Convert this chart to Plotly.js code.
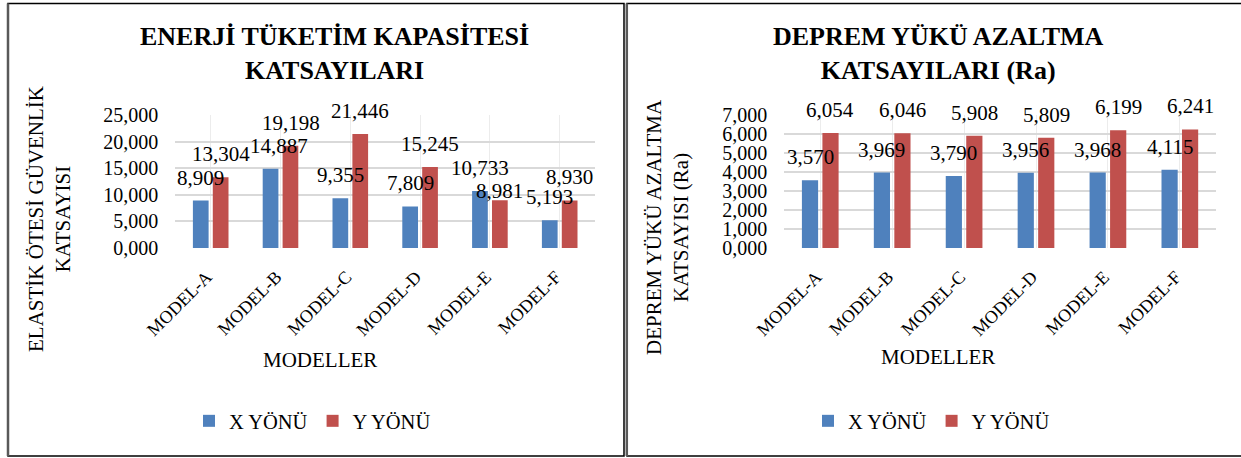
<!DOCTYPE html>
<html>
<head>
<meta charset="utf-8">
<script src="https://cdn.plot.ly/plotly-3.0.1.min.js"></script>
<style>
  html, body { margin: 0; padding: 0; background: #ffffff; }
  #chart { width: 1241px; height: 458px; }
</style>
</head>
<body>
<div id="chart"></div>
<script>
// ---- data ----
const categories = ['MODEL-A', 'MODEL-B', 'MODEL-C', 'MODEL-D', 'MODEL-E', 'MODEL-F'];
const seriesNames = ['X YÖNÜ', 'Y YÖNÜ'];
const energyX = [8.909, 14.887, 9.355, 7.809, 10.733, 5.193];
const energyY = [13.304, 19.198, 21.446, 15.245, 8.981, 8.930];
const reductionX = [3.570, 3.969, 3.790, 3.956, 3.968, 4.115];
const reductionY = [6.054, 6.046, 5.908, 5.809, 6.199, 6.241];
const leftTitle = 'ENERJİ TÜKETİM KAPASİTESİ<br>KATSAYILARI';
const rightTitle = 'DEPREM YÜKÜ AZALTMA<br>KATSAYILARI (Ra)';
const leftYTitle = 'ELASTİK ÖTESİ GÜVENLİK<br>KATSAYISI';
const rightYTitle = 'DEPREM YÜKÜ AZALTMA<br>KATSAYISI (Ra)';
const xTitle = 'MODELLER';

// ---- styling ----
const W = 1241, H = 458;
const FONT = 'Liberation Serif, Times New Roman, serif';
const BLUE = '#4F81BD', RED = '#C0504D';
const px = v => v / W;
const py = v => 1 - v / H;
const fmt = v => v.toFixed(3).replace('.', ',');

const traces = [
  {type: 'bar', name: seriesNames[0], x: categories, y: energyX, xaxis: 'x', yaxis: 'y', marker: {color: BLUE}, legend: 'legend'},
  {type: 'bar', name: seriesNames[1], x: categories, y: energyY, xaxis: 'x', yaxis: 'y', marker: {color: RED}, legend: 'legend'},
  {type: 'bar', name: seriesNames[0], x: categories, y: reductionX, xaxis: 'x2', yaxis: 'y2', marker: {color: BLUE}, legend: 'legend2'},
  {type: 'bar', name: seriesNames[1], x: categories, y: reductionY, xaxis: 'x2', yaxis: 'y2', marker: {color: RED}, legend: 'legend2'}
];

// manual label nudges (pixel placement only, as in the source chart)
const labelNudge = {'energyX-1': {dx: 8, dy: 0}, 'energyY-4': {dx: 0, dy: -14}};

const annotations = [];
function addLabels(key, values, xref, yref, shift) {
  values.forEach((v, i) => {
    const n = labelNudge[key + '-' + i] || {dx: 0, dy: 0};
    annotations.push({
      x: categories[i], y: v, xref: xref, yref: yref,
      text: fmt(v), showarrow: false, xshift: shift + n.dx, yshift: 23 + n.dy,
      xanchor: 'center', yanchor: 'middle',
      font: {family: FONT, size: 21, color: '#000'}
    });
  });
}
addLabels('energyX', energyX, 'x', 'y', -10);
addLabels('energyY', energyY, 'x', 'y', 10);
addLabels('reductionX', reductionX, 'x2', 'y2', -10.2);
addLabels('reductionY', reductionY, 'x2', 'y2', 10.2);

function paperText(text, x, y, size, extra) {
  annotations.push(Object.assign({
    text: text, x: px(x), y: py(y), xref: 'paper', yref: 'paper',
    xanchor: 'center', yanchor: 'middle', showarrow: false,
    font: {family: FONT, size: size, color: '#000'}
  }, extra || {}));
}
paperText(leftTitle, 334, 53, 26, {font: {family: FONT, size: 26, color: '#000', weight: 700}});
paperText(rightTitle, 938, 54, 26, {font: {family: FONT, size: 26, color: '#000', weight: 700}});
paperText(leftYTitle, 49, 219, 21, {textangle: -90});
paperText(rightYTitle, 667, 227, 21, {textangle: -90});
paperText(xTitle, 320, 360, 21);
paperText(xTitle, 938, 357, 21);

const yTop = py(115), yBot = py(248);

function xAxis(domain) {
  return {
    domain: domain, type: 'category', showgrid: true, gridcolor: '#ececec', gridwidth: 1,
    showline: false, zeroline: false, ticks: '', tickangle: -45,
    ticklabelstandoff: 14, ticklabelshift: -4,
    tickfont: {family: FONT, size: 18, color: '#000'}, fixedrange: true
  };
}
function yAxis(range, dtick, anchor) {
  return {
    domain: [yBot, yTop], range: range, dtick: dtick, tick0: 0, anchor: anchor,
    tickformat: '.3f', showgrid: true, gridcolor: '#d9d9d9', gridwidth: 2,
    zeroline: false, showline: false, ticks: '', ticklabelstandoff: 16,
    tickfont: {family: FONT, size: 20, color: '#000'}, fixedrange: true
  };
}

const legendBase = {
  orientation: 'h', yanchor: 'middle', xanchor: 'left', y: py(421),
  font: {family: FONT, size: 20.5, color: '#000'}, bgcolor: 'rgba(0,0,0,0)', traceorder: 'normal'
};

const layout = {
  width: W, height: H, autosize: false,
  margin: {l: 0, r: 0, t: 0, b: 0, pad: 0},
  paper_bgcolor: '#ffffff', plot_bgcolor: 'rgba(0,0,0,0)',
  separators: ',.',
  barmode: 'group', bargap: 0.43, bargroupgap: 0.21,
  showlegend: true,
  font: {family: FONT, color: '#000'},
  xaxis: Object.assign(xAxis([px(175.2), px(595.2)]), {anchor: 'y'}),
  yaxis: yAxis([0, 25], 5, 'x'),
  xaxis2: Object.assign(xAxis([px(784.3), px(1215.8)]), {anchor: 'y2'}),
  yaxis2: yAxis([0, 7], 1, 'x2'),
  legend: Object.assign({}, legendBase, {x: px(189)}),
  legend2: Object.assign({}, legendBase, {x: px(808)}),
  annotations: annotations,
  shapes: [
    {type: 'rect', xref: 'paper', yref: 'paper', x0: px(8), x1: px(624), y0: py(456), y1: py(3.5), line: {color: '#000', width: 1.5}},
    {type: 'rect', xref: 'paper', yref: 'paper', x0: px(627), x1: px(1244), y0: py(456), y1: py(3.5), line: {color: '#000', width: 1.5}},
    {type: 'line', xref: 'paper', yref: 'paper', x0: px(8), x1: px(8), y0: py(456), y1: py(3.5), line: {color: '#595959', width: 2.5}},
    {type: 'line', xref: 'paper', yref: 'paper', x0: px(626.8), x1: px(626.8), y0: py(456), y1: py(3.5), line: {color: '#595959', width: 2.5}}
  ]
};

Plotly.newPlot('chart', traces, layout, {displayModeBar: false, staticPlot: true});
</script>
</body>
</html>
